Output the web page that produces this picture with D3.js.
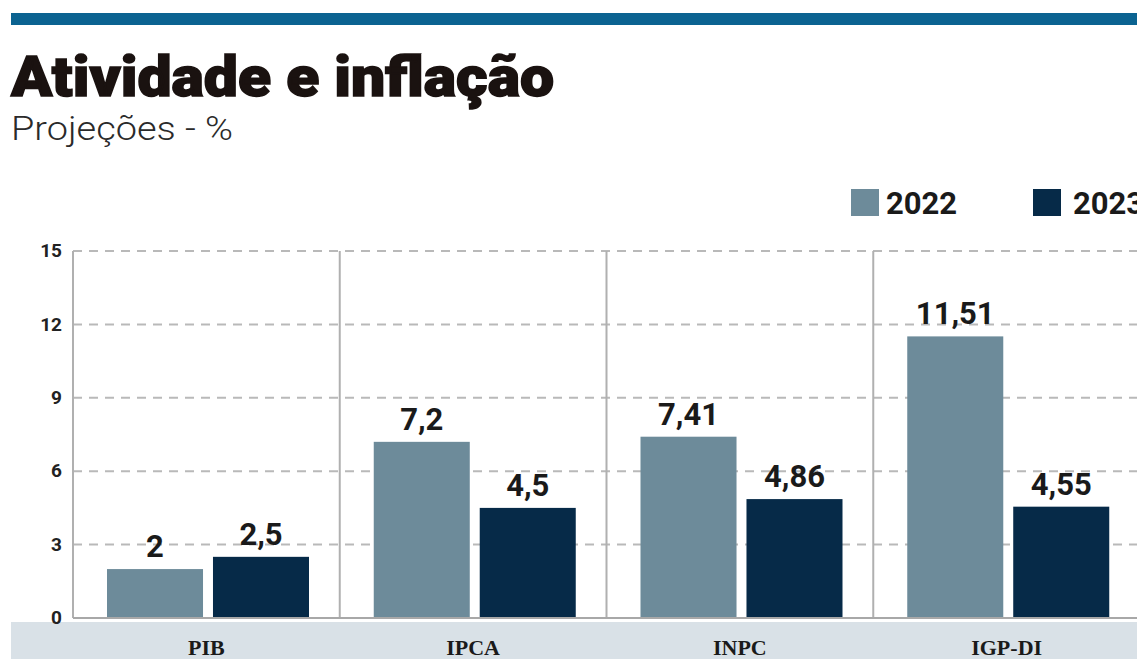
<!DOCTYPE html>
<html><head><meta charset="utf-8">
<script src="https://cdn.jsdelivr.net/npm/d3@7/dist/d3.min.js"></script>
<style>html,body{margin:0;padding:0;background:#fff;overflow:hidden}</style>
</head><body>
<svg id="chart" width="1137" height="659"></svg>
<script>
const categories = ["PIB", "IPCA", "INPC", "IGP-DI"];
const seriesNames = ["2022", "2023"];
const values2022 = [2, 7.2, 7.41, 11.51];
const values2023 = [2.5, 4.5, 4.86, 4.55];
const labels2022 = ["2", "7,2", "7,41", "11,51"];
const labels2023 = ["2,5", "4,5", "4,86", "4,55"];
const yTicks = [0, 3, 6, 9, 12, 15];
const colors = ["#6d8b9a", "#062a48"];

const svg = d3.select("#chart");
const W = 1137;
const plotLeft = 73, plotRight = 1140, yTop = 251, yBottom = 618;

// top bar
svg.append("rect").attr("x", 11).attr("y", 13).attr("width", W - 11).attr("height", 12).attr("fill", "#0b6391");

// title
svg.append("text").attr("x", 11).attr("y", 96)
  .attr("font-family", "Roboto, 'Liberation Sans', sans-serif").attr("font-weight", 900)
  .attr("font-size", 56).attr("fill", "#1a1210").attr("stroke", "#1a1210").attr("stroke-width", 1.5)
  .attr("textLength", 543).attr("lengthAdjust", "spacingAndGlyphs")
  .text("Atividade e inflação");
svg.append("text").attr("x", 11).attr("y", 140)
  .attr("font-family", "Roboto, 'Liberation Sans', sans-serif").attr("font-weight", 300)
  .attr("font-size", 33).attr("fill", "#2a2a2a")
  .attr("textLength", 222).attr("lengthAdjust", "spacingAndGlyphs")
  .text("Projeções - %");

const x0 = d3.scaleBand().domain(categories).range([plotLeft, plotRight]).padding(0);
const x1 = d3.scaleBand().domain(seriesNames).range([34, 236]).paddingInner(0.094).paddingOuter(0);
const y = d3.scaleLinear().domain([0, 15]).range([yBottom, yTop]);

// bottom band
svg.append("rect").attr("x", 11).attr("y", 622).attr("width", W - 11).attr("height", 40).attr("fill", "#d9e1e7");

// gridlines
svg.append("g").selectAll("line").data(yTicks.filter(d => d > 0)).join("line")
  .attr("x1", plotLeft).attr("x2", W).attr("y1", d => y(d)).attr("y2", d => y(d))
  .attr("stroke", "#b9b9b9").attr("stroke-width", 2).attr("stroke-dasharray", "9,7");

// vertical separators
svg.append("g").selectAll("line").data(categories).join("line")
  .attr("x1", d => x0(d)).attr("x2", d => x0(d)).attr("y1", yTop).attr("y2", yBottom)
  .attr("stroke", "#b0b0b0").attr("stroke-width", 2);

// y axis labels
const yAxis = d3.axisLeft(y).tickValues(yTicks).tickSize(0).tickPadding(0);
const ya = svg.append("g").attr("transform", `translate(62,0)`).call(yAxis);
ya.select(".domain").remove();
ya.selectAll("text").attr("font-family", "Roboto, sans-serif").attr("font-weight", 700)
  .attr("font-size", 19).attr("fill", "#222").attr("dy", "0.3em");

// bars
const rows = categories.map((c, i) => ({cat: c, vals: [values2022[i], values2023[i]], labs: [labels2022[i], labels2023[i]]}));
const g = svg.append("g");
rows.forEach(r => {
  seriesNames.forEach((s, j) => {
    const bx = x0(r.cat) + x1(s);
    g.append("rect").attr("x", bx).attr("y", y(r.vals[j])).attr("width", x1.bandwidth())
      .attr("height", y(0) - y(r.vals[j])).attr("fill", colors[j]);
    g.append("text").attr("x", bx + x1.bandwidth() / 2).attr("y", y(r.vals[j]) - 12)
      .attr("text-anchor", "middle").attr("font-family", "Roboto, sans-serif").attr("font-weight", 700)
      .attr("font-size", 31).attr("fill", "#1a1a1a").text(r.labs[j]);
  });
});

// baseline
svg.append("line").attr("x1", plotLeft).attr("x2", W).attr("y1", yBottom).attr("y2", yBottom)
  .attr("stroke", "#a8a8a8").attr("stroke-width", 2);

// category labels
const xAxis = d3.axisBottom(x0).tickSize(0).tickPadding(0);
const xa = svg.append("g").attr("transform", `translate(0,655)`).call(xAxis);
xa.select(".domain").remove();
xa.selectAll("text").attr("dy", 0).attr("font-family", "'Liberation Serif', serif").attr("font-weight", 700)
  .attr("font-size", 22).attr("fill", "#1a1a1a");

// legend
const legX = [851, 1033];
seriesNames.forEach((s, j) => {
  svg.append("rect").attr("x", legX[j]).attr("y", 189).attr("width", 28).attr("height", 27).attr("fill", colors[j]);
  svg.append("text").attr("x", legX[j] + 35 + j * 5).attr("y", 214)
    .attr("font-family", "Roboto, sans-serif").attr("font-weight", 700).attr("font-size", 31)
    .attr("fill", "#1a1a1a").text(s);
});
</script>
</body></html>
